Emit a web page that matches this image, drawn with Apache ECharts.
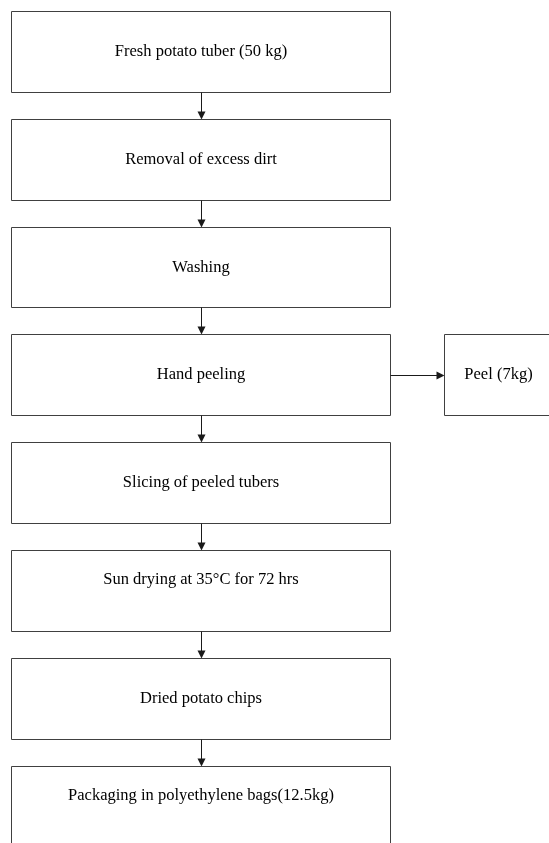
<!DOCTYPE html>
<html><head><meta charset="utf-8">
<script src="https://cdn.jsdelivr.net/npm/echarts@6/dist/echarts.min.js"></script>
<style>html,body{margin:0;padding:0;background:#fff}#c{width:549px;height:843px}</style>
</head><body><div id="c"></div>
<script>
// ---- data ----
const steps = [
  "Fresh potato tuber (50 kg)",
  "Removal of excess dirt",
  "Washing",
  "Hand peeling",
  "Slicing of peeled tubers",
  "Sun drying at 35°C for 72 hrs",
  "Dried potato chips",
  "Packaging in polyethylene bags(12.5kg)"
];
const sideFrom = ["Hand peeling"];
const sideLabels = ["Peel (7kg)"];

// ---- layout (axis units = pixels) ----
const L = {left: 11, right: 390, top: 11, pitch: 107.8, height: 80.7,
           sideLeft: 444, sideRight: 552, head: 8, headHalf: 4};
const labelShift = {5: -11, 7: -11};
const FONT = '16.5px "Liberation Serif", "Times New Roman", serif';
const BOX = '#404040', ARROW = '#1a1a1a';

const chart = echarts.init(document.getElementById('c'), null, {renderer: 'canvas'});
const crisp = v => Math.round(v) + 0.5;

function arrowDown(x, y0, y1) {
  return [
    {type: 'line', shape: {x1: x, y1: y0, x2: x, y2: y1 - L.head + 1}, style: {stroke: ARROW, lineWidth: 1}},
    {type: 'polygon', shape: {points: [[x - L.headHalf, y1 - L.head], [x + L.headHalf, y1 - L.head], [x, y1]]}, style: {fill: ARROW}}
  ];
}
function arrowRight(y, x0, x1) {
  return [
    {type: 'line', shape: {x1: x0, y1: y, x2: x1 - L.head + 1, y2: y}, style: {stroke: ARROW, lineWidth: 1}},
    {type: 'polygon', shape: {points: [[x1 - L.head, y - L.headHalf], [x1 - L.head, y + L.headHalf], [x1, y]]}, style: {fill: ARROW}}
  ];
}

function renderItem(params, api) {
  const i = api.value(0);
  const top = L.top + i * L.pitch;
  const p1 = api.coord([L.left, top]);
  const p2 = api.coord([L.right, top + L.height]);
  const x0 = crisp(p1[0]), y0 = crisp(p1[1]);
  const x1 = crisp(p2[0]), y1 = crisp(p2[1]);
  const cx = (x0 + x1) / 2, cy = (y0 + y1) / 2;
  const children = [
    {type: 'rect', shape: {x: x0, y: y0, width: x1 - x0, height: y1 - y0},
     style: {fill: '#fff', stroke: BOX, lineWidth: 1}},
    {type: 'text', style: {text: steps[i], x: cx, y: cy + (labelShift[i] || 0),
     align: 'center', verticalAlign: 'middle', font: FONT, fill: '#000'}}
  ];
  if (i < steps.length - 1) {
    const nTop = crisp(api.coord([L.left, L.top + (i + 1) * L.pitch])[1]);
    children.push(...arrowDown(crisp(cx), y1, nTop));
  }
  const s = sideFrom.indexOf(steps[i]);
  if (s >= 0) {
    const sx0 = crisp(api.coord([L.sideLeft, top])[0]);
    const sx1 = crisp(api.coord([L.sideRight, top])[0]);
    children.push(...arrowRight(crisp(cy), x1, sx0));
    children.push({type: 'rect', shape: {x: sx0, y: y0, width: sx1 - sx0, height: y1 - y0},
      style: {fill: '#fff', stroke: BOX, lineWidth: 1}});
    children.push({type: 'text', style: {text: sideLabels[s], x: (sx0 + sx1) / 2, y: cy,
      align: 'center', verticalAlign: 'middle', font: FONT, fill: '#000'}});
  }
  return {type: 'group', children};
}

chart.setOption({
  animation: false,
  backgroundColor: '#fff',
  grid: {left: 0, right: 0, top: 0, bottom: 0},
  xAxis: {type: 'value', min: 0, max: 549, show: false},
  yAxis: {type: 'value', min: 0, max: 843, inverse: true, show: false},
  series: [{
    type: 'custom',
    clip: false,
    renderItem,
    encode: {x: 0, y: 1},
    data: steps.map((s, i) => [i, i])
  }]
});
</script>
</body></html>
